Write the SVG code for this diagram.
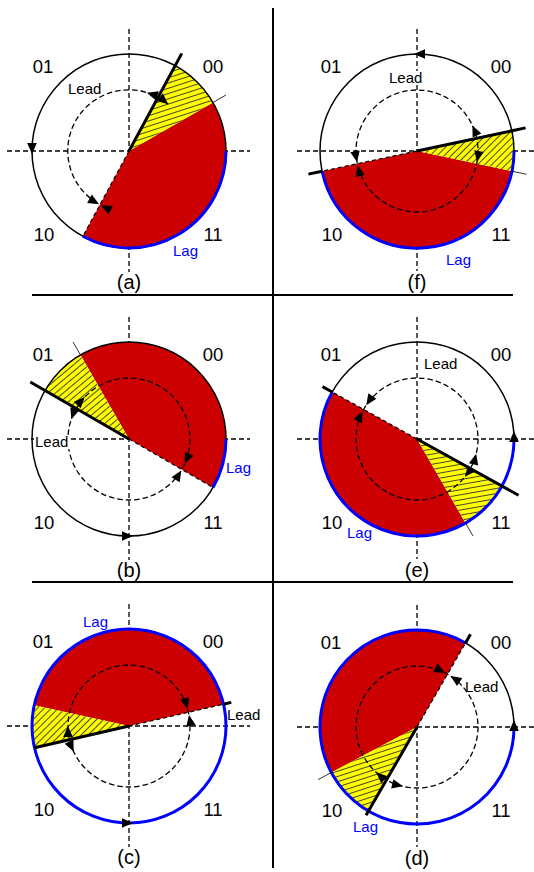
<svg xmlns="http://www.w3.org/2000/svg" width="534" height="872" viewBox="0 0 534 872">
<style>
text{font-family:"Liberation Sans",Arial,sans-serif;fill:#000}
.q{font-size:18.5px;text-anchor:middle}
.p{font-size:20px;text-anchor:middle}
.s{font-size:15px}
.lag{fill:#0000ff}
.ax{stroke:#000;stroke-width:1.3;stroke-dasharray:5 3;fill:none}
.red{fill:#cc0000}
.oc{fill:none;stroke:#000;stroke-width:1.5}
.bl{fill:none;stroke:#0000ff;stroke-width:3}
.ic{fill:none;stroke:#000;stroke-width:1.3;stroke-dasharray:5.5 3}
.tk{stroke:#000;stroke-width:3;fill:none}
.de{stroke:#000;stroke-width:1.2;stroke-dasharray:4 3;fill:none}
.tn{stroke:#000;stroke-width:0.8;fill:none}
.div{stroke:#000;stroke-width:2;fill:none}
.bg{fill:#fff}
</style>
<defs>
<path id="ah" d="M0,0 L-11,-4.8 L-11,4.8 Z" fill="#000"/>
<pattern id="hA" patternUnits="userSpaceOnUse" width="6" height="5" patternTransform="rotate(-18)"><rect width="6" height="5" fill="#ffff00"/><path d="M0,2.5H6" stroke="#333" stroke-width="0.9"/></pattern>
<pattern id="hE" patternUnits="userSpaceOnUse" width="6" height="5" patternTransform="rotate(-10)"><rect width="6" height="5" fill="#ffff00"/><path d="M0,2.5H6" stroke="#333" stroke-width="0.9"/></pattern>
<pattern id="hB" patternUnits="userSpaceOnUse" width="6" height="5" patternTransform="rotate(-40)"><rect width="6" height="5" fill="#ffff00"/><path d="M0,2.5H6" stroke="#333" stroke-width="0.9"/></pattern>
<pattern id="hF" patternUnits="userSpaceOnUse" width="6" height="5" patternTransform="rotate(-45)"><rect width="6" height="5" fill="#ffff00"/><path d="M0,2.5H6" stroke="#333" stroke-width="0.9"/></pattern>
</defs>
<rect width="534" height="872" fill="#fff"/>
<g id="dividers"><path class="div" d="M273,8V868M32,295H513M32,582H513"/></g>

<g id="panel-a" transform="translate(129,151)">
<path class="ax" d="M0,-122V121M-122,0H121"/>
<path class="red" d="M0,0L-46.1,85.3A97,97 0 0 0 84,-48.5Z"/>
<path fill="url(#hA)" d="M0,0L84,-48.5A97,97 0 0 0 46.1,-85.3Z"/>
<circle class="oc" r="97"/>
<path class="bl" d="M-46.1,85.3A97,97 0 0 0 97,0"/>
<path class="ic" d="M39.2,-46.7A61,61 0 1 0 -30.5,52.8"/>
<path class="tk" d="M0,0L52.8,-97.6"/>
<path class="de" d="M0,0L-46.1,85.3"/>
<path class="tn" d="M84,-48.5L97,-56"/>
<use href="#ah" transform="rotate(-73) translate(61,0) rotate(-90)"/>
<use href="#ah" transform="rotate(-50) translate(61,0) rotate(90)"/>
<use href="#ah" transform="rotate(-240.6) translate(61,0) rotate(-90)"/>
<use href="#ah" transform="rotate(-242.6) translate(61,0) rotate(90)"/>
<use href="#ah" transform="translate(-97,3) rotate(90)"/>
<text class="q" x="-86" y="-78">01</text><text class="q" x="84" y="-78">00</text>
<text class="q" x="-85" y="90">10</text><text class="q" x="84" y="90">11</text>
<text class="s" x="-61" y="-57">Lead</text>
<text class="s lag" x="44" y="105">Lag</text>
<text class="p" x="0" y="138">(a)</text>
</g>

<g id="panel-f" transform="translate(417,151)">
<path class="ax" d="M0,-122V120M-120,0H118"/>
<path class="red" d="M0,0L-94.9,20.2A97,97 0 0 0 94.9,20.2Z"/>
<path fill="url(#hF)" d="M0,0L94.9,20.2A97,97 0 0 0 94.9,-20.2Z"/>
<circle class="oc" r="97"/>
<path class="bl" d="M-94.9,20.2A97,97 0 0 0 97,0"/>
<circle class="ic" r="61"/>
<path class="tk" d="M0,0L108.6,-23.1M-94.9,20.2L-108.6,23.1"/>
<path class="de" d="M0,0L-94.9,20.2"/>
<path class="tn" d="M94.9,20.2L109.5,23.3"/>
<use href="#ah" transform="rotate(-24.8) translate(61,0) rotate(-90)"/>
<use href="#ah" transform="rotate(10.3) translate(61,0) rotate(90)"/>
<use href="#ah" transform="rotate(-190.5) translate(61,0) rotate(-90)"/>
<use href="#ah" transform="rotate(-193.5) translate(61,0) rotate(90)"/>
<use href="#ah" transform="translate(-3,-97) rotate(180)"/>
<text class="q" x="-86" y="-78">01</text><text class="q" x="84" y="-78">00</text>
<text class="q" x="-85" y="90">10</text><text class="q" x="84" y="90">11</text>
<rect class="bg" x="-29" y="-80" width="37" height="14"/>
<text class="s" x="-28" y="-68">Lead</text>
<text class="s lag" x="29" y="114">Lag</text>
<text class="p" x="0" y="138">(f)</text>
</g>

<g id="panel-b" transform="translate(129,439)">
<path class="ax" d="M0,-122V121M-122,0H121"/>
<path class="red" d="M0,0L84,48.5A97,97 0 0 0 -48.5,-84Z"/>
<path fill="url(#hB)" d="M0,0L-48.5,-84A97,97 0 0 0 -84,-48.5Z"/>
<circle class="oc" r="97"/>
<path class="bl" d="M84,48.5A97,97 0 0 0 97,0"/>
<circle class="ic" r="61"/>
<path class="tk" d="M0,0L-98.7,-57"/>
<path class="de" d="M0,0L84,48.5"/>
<path class="tn" d="M-48.5,-84L-56,-97"/>
<use href="#ah" transform="rotate(-136.5) translate(61,0) rotate(90)"/>
<use href="#ah" transform="rotate(-161) translate(61,0) rotate(-90)"/>
<use href="#ah" transform="rotate(-336) translate(61,0) rotate(90)"/>
<use href="#ah" transform="rotate(-329) translate(61,0) rotate(-90)"/>
<use href="#ah" transform="translate(4,97)"/>
<text class="q" x="-86" y="-78">01</text><text class="q" x="84" y="-78">00</text>
<text class="q" x="-85" y="90">10</text><text class="q" x="84" y="90">11</text>
<rect class="bg" x="-95" y="-4" width="36" height="14"/>
<text class="s" x="-94" y="8">Lead</text>
<text class="s lag" x="97" y="34">Lag</text>
<text class="p" x="0" y="138">(b)</text>
</g>

<g id="panel-e" transform="translate(417,439)">
<path class="ax" d="M0,-122V120M-120,0H118"/>
<path class="red" d="M0,0L-84.8,-47A97,97 0 0 0 48.5,84Z"/>
<path fill="url(#hE)" d="M0,0L48.5,84A97,97 0 0 0 84.8,47Z"/>
<circle class="oc" r="97"/>
<path class="bl" d="M-84.8,-47A97,97 0 1 0 97,0"/>
<circle class="ic" r="61"/>
<path class="tk" d="M0,0L101.5,56.2M-84.8,-47L-94.5,-52.4"/>
<path class="de" d="M0,0L-84.8,-47"/>
<path class="tn" d="M48.5,84L56,97"/>
<use href="#ah" transform="rotate(-146.3) translate(61,0) rotate(-90)"/>
<use href="#ah" transform="rotate(-153) translate(61,0) rotate(90)"/>
<use href="#ah" transform="rotate(-346) translate(61,0) rotate(-90)"/>
<use href="#ah" transform="rotate(-321.7) translate(61,0) rotate(90)"/>
<use href="#ah" transform="translate(97,-8) rotate(-90)"/>
<text class="q" x="-86" y="-78">01</text><text class="q" x="84" y="-78">00</text>
<text class="q" x="-85" y="90">10</text><text class="q" x="84" y="90">11</text>
<text class="s" x="7" y="-70">Lead</text>
<text class="s lag" x="-70" y="99">Lag</text>
<text class="p" x="0" y="138">(e)</text>
</g>

<g id="panel-c" transform="translate(129,726)">
<path class="ax" d="M0,-122V121M-122,0H121"/>
<path class="red" d="M0,0L94.5,-21.8A97,97 0 0 0 -94.7,-20.8Z"/>
<path fill="url(#hF)" d="M0,0L-94.7,-20.8A97,97 0 0 0 -94.5,21.8Z"/>
<circle class="bl" r="97"/>
<circle class="ic" r="61"/>
<path class="tk" d="M0,0L-94.5,21.8M94.5,-21.8L102.3,-23.6"/>
<path class="de" d="M0,0L94.5,-21.8"/>
<use href="#ah" transform="rotate(-16.1) translate(61,0) rotate(90)"/>
<use href="#ah" transform="rotate(-10.4) translate(61,0) rotate(-90)"/>
<use href="#ah" transform="rotate(-180) translate(61,0) rotate(90)"/>
<use href="#ah" transform="rotate(-205) translate(61,0) rotate(-90)"/>
<use href="#ah" transform="translate(4,97)"/>
<text class="q" x="-86" y="-78">01</text><text class="q" x="84" y="-78">00</text>
<text class="q" x="-85" y="90">10</text><text class="q" x="84" y="90">11</text>
<text class="s lag" x="-46" y="-99">Lag</text>
<text class="s" x="98" y="-6">Lead</text>
<text class="p" x="0" y="138">(c)</text>
</g>

<g id="panel-d" transform="translate(417,727)">
<path class="ax" d="M0,-122V120M-120,0H118"/>
<path class="red" d="M0,0L48.5,-84A97,97 0 0 0 -85.6,45.5Z"/>
<path fill="url(#hA)" d="M0,0L-85.6,45.5A97,97 0 0 0 -48.5,84Z"/>
<circle class="oc" r="97"/>
<path class="bl" d="M48.5,-84A97,97 0 1 0 97,0"/>
<circle class="ic" r="61"/>
<path class="tk" d="M0,0L-51,88.3M48.5,-84L53.5,-92.7"/>
<path class="de" d="M0,0L48.5,-84"/>
<path class="tn" d="M-85.6,45.5L-98.9,52.6"/>
<use href="#ah" transform="rotate(-62.5) translate(61,0) rotate(90)"/>
<use href="#ah" transform="rotate(-56.7) translate(61,0) rotate(-90)"/>
<use href="#ah" transform="rotate(-228) translate(61,0) rotate(90)"/>
<use href="#ah" transform="rotate(-256.7) translate(61,0) rotate(-90)"/>
<use href="#ah" transform="translate(97,-7) rotate(-90)"/>
<text class="q" x="-86" y="-78">01</text><text class="q" x="84" y="-78">00</text>
<text class="q" x="-85" y="90">10</text><text class="q" x="84" y="90">11</text>
<text class="s" x="48" y="-35">Lead</text>
<text class="s lag" x="-64" y="105">Lag</text>
<text class="p" x="0" y="138">(d)</text>
</g>
</svg>
